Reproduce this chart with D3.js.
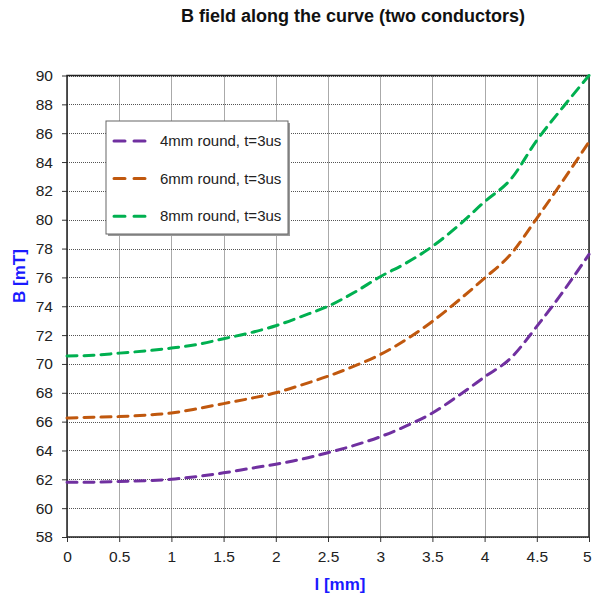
<!DOCTYPE html>
<html>
<head>
<meta charset="utf-8">
<script src="https://cdn.jsdelivr.net/npm/d3@7"></script>
<style>
	html, body { margin: 0; padding: 0; background: #fff; }
	svg { display: block; font-family: "Liberation Sans", Arial, sans-serif; }
</style>
</head>
<body>
<svg id="chart" width="592" height="596"></svg>
<script>
// positions along the curve, mm
var xs = [0, 0.25, 0.5, 0.75, 1, 1.25, 1.5, 1.75, 2, 2.25, 2.5, 2.75, 3, 3.25, 3.5, 3.75, 4, 4.25, 4.5, 4.75, 5];
// B field, mT
var round4 = [61.8, 61.8, 61.85, 61.9, 62.0, 62.2, 62.45, 62.75, 63.05, 63.4, 63.85, 64.35, 64.95, 65.7, 66.6, 67.8, 69.1, 70.4, 72.6, 75.0, 77.6];
var round6 = [66.25, 66.3, 66.35, 66.45, 66.6, 66.9, 67.25, 67.6, 68.0, 68.55, 69.15, 69.85, 70.65, 71.7, 72.95, 74.4, 75.95, 77.6, 80.1, 82.7, 85.4];
var round8 = [70.55, 70.6, 70.75, 70.9, 71.1, 71.35, 71.75, 72.15, 72.65, 73.3, 74.0, 74.95, 76.05, 77.0, 78.15, 79.6, 81.25, 82.8, 85.5, 87.8, 90.0];
var seriesNames = ["4mm round, t=3us", "6mm round, t=3us", "8mm round, t=3us"];
var seriesColors = ["#7030A0", "#C0580E", "#00B050"];
var xTicks = [0, 0.5, 1, 1.5, 2, 2.5, 3, 3.5, 4, 4.5, 5];
var yTicks = d3.range(58, 91, 2);

var svg = d3.select("#chart");
var plot = { left: 67, right: 589, top: 75.5, bottom: 537 };

var x = d3.scaleLinear().domain([0, 5]).range([plot.left, plot.right]);
var y = d3.scaleLinear().domain([58, 90]).range([plot.bottom, plot.top]);

// title
svg.append("text")
	.attr("x", 353).attr("y", 22)
	.attr("text-anchor", "middle")
	.attr("font-size", 18).attr("font-weight", "bold")
	.attr("fill", "#111")
	.text("B field along the curve (two conductors)");

// grid
var grid = svg.append("g")
	.attr("stroke", "#555")
	.attr("stroke-width", 1)
	.attr("stroke-dasharray", "1,1");
xTicks.forEach(function(t) {
	grid.append("line")
		.attr("x1", Math.round(x(t)) + 0.5).attr("x2", Math.round(x(t)) + 0.5)
		.attr("y1", plot.top).attr("y2", plot.bottom);
});
yTicks.forEach(function(t) {
	grid.append("line")
		.attr("x1", plot.left).attr("x2", plot.right)
		.attr("y1", Math.round(y(t)) + 0.5).attr("y2", Math.round(y(t)) + 0.5);
});

// axes
var yAxis = svg.append("g")
	.attr("transform", "translate(" + plot.left + ",0)")
	.call(d3.axisLeft(y).tickValues(yTicks).tickSize(5).tickPadding(9));
var xAxis = svg.append("g")
	.attr("transform", "translate(0," + plot.bottom + ")")
	.call(d3.axisBottom(x).tickValues(xTicks).tickSize(5).tickPadding(9).tickFormat(d3.format("")));
[xAxis, yAxis].forEach(function(a) {
	a.select(".domain").remove();
	a.selectAll("line").attr("stroke", "#333");
	a.selectAll("text").attr("font-size", 15.5).attr("fill", "#222")
		.attr("font-family", "'Liberation Sans', Arial, sans-serif");
});
// last label sits at the window edge: keep it inside
xAxis.selectAll(".tick text").filter(function(d) { return d === 5; })
	.attr("text-anchor", "end").attr("dx", 2);

// plot border
svg.append("rect")
	.attr("x", plot.left).attr("y", plot.top)
	.attr("width", plot.right - plot.left).attr("height", plot.bottom - plot.top)
	.attr("fill", "none").attr("stroke", "#222").attr("stroke-width", 1.5);

// curves
var line = d3.line()
	.x(function(d) { return x(d[0]); })
	.y(function(d) { return y(d[1]); })
	.curve(d3.curveMonotoneX);
var data = [round4, round6, round8];
var curves = svg.append("g");
data.forEach(function(vals, i) {
	curves.append("path")
		.attr("d", line(xs.map(function(v, k) { return [v, vals[k]]; })))
		.attr("fill", "none")
		.attr("stroke", seriesColors[i])
		.attr("stroke-width", 3)
		.attr("stroke-dasharray", "10,7")
		.attr("stroke-linecap", "round");
});

// legend
var legend = svg.append("g");
legend.append("rect")
	.attr("x", 108).attr("y", 123).attr("width", 182).attr("height", 113)
	.attr("fill", "#999");
legend.append("rect")
	.attr("x", 106).attr("y", 121).attr("width", 182).attr("height", 113)
	.attr("fill", "#fff").attr("stroke", "#666").attr("stroke-width", 1);
seriesNames.forEach(function(name, i) {
	var cy = 141 + i * 37.6;
	legend.append("line")
		.attr("x1", 114).attr("x2", 148)
		.attr("y1", cy).attr("y2", cy)
		.attr("stroke", seriesColors[i])
		.attr("stroke-width", 3)
		.attr("stroke-dasharray", "11,9")
		.attr("stroke-linecap", "round");
	legend.append("text")
		.attr("x", 160).attr("y", cy + 5)
		.attr("font-size", 15).attr("fill", "#222")
		.text(name);
});

// axis titles
svg.append("text")
	.attr("transform", "translate(25,276) rotate(-90)")
	.attr("text-anchor", "middle")
	.attr("font-size", 17).attr("font-weight", "bold")
	.attr("fill", "#1a1aff")
	.text("B [mT]");
svg.append("text")
	.attr("x", 340).attr("y", 590)
	.attr("text-anchor", "middle")
	.attr("font-size", 17).attr("font-weight", "bold")
	.attr("fill", "#1a1aff")
	.text("l [mm]");
</script>
</body>
</html>
